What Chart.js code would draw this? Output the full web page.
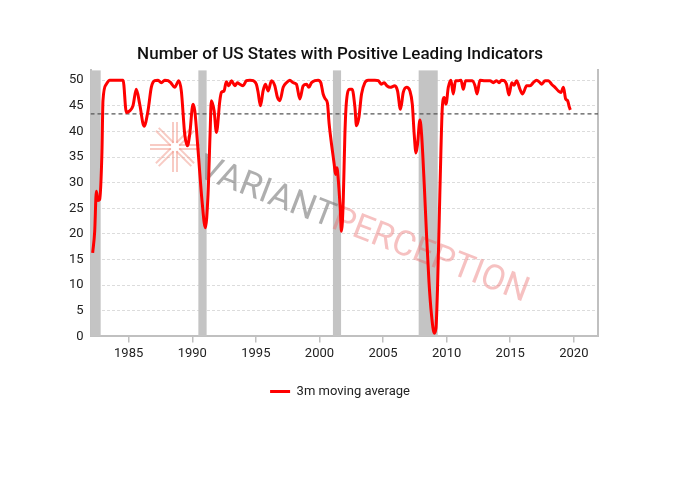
<!DOCTYPE html>
<html>
<head>
<meta charset="utf-8">
<script src="https://cdn.jsdelivr.net/npm/chart.js@4.4.1/dist/chart.umd.min.js"></script>
<style>
  html, body { margin: 0; padding: 0; background: #fff; }
  #wrap { width: 680px; height: 481px; }
</style>
</head>
<body>
<div id="wrap"><canvas id="chart" width="680" height="481"></canvas></div>
<script>
// --- DONNÉES ---
const obsYears = [
  1982.17, 1982.33, 1982.46, 1982.59, 1982.72, 1982.90, 1982.98, 1983.24, 1983.51, 1984.56,
  1984.82, 1985.08, 1985.34, 1985.60, 1985.87, 1986.21, 1986.52, 1986.78, 1987.05, 1987.31,
  1987.57, 1987.84, 1988.10, 1988.31, 1988.62, 1988.94, 1989.14, 1989.41, 1989.62, 1989.80,
  1990.06, 1990.20, 1990.46, 1990.77, 1991.03, 1991.24, 1991.40, 1991.50, 1991.72, 1991.90,
  1992.17, 1992.29, 1992.50, 1992.68, 1992.87, 1993.08, 1993.35, 1993.55, 1993.74, 1994.00,
  1994.26, 1994.53, 1994.79, 1995.04, 1995.18, 1995.36, 1995.57, 1995.75, 1995.97, 1996.23,
  1996.49, 1996.70, 1996.89, 1997.15, 1997.41, 1997.67, 1997.93, 1998.19, 1998.46, 1998.72,
  1998.98, 1999.17, 1999.37, 1999.64, 1999.90, 2000.11, 2000.29, 2000.47, 2000.63, 2000.76,
  2000.95, 2001.16, 2001.26, 2001.37, 2001.47, 2001.63, 2001.73, 2001.87, 2002.00, 2002.13,
  2002.39, 2002.57, 2002.79, 2002.91, 2003.10, 2003.31, 2003.57, 2003.83, 2004.36, 2004.62,
  2004.88, 2005.09, 2005.30, 2005.56, 2005.93, 2006.14, 2006.37, 2006.59, 2006.85, 2007.11,
  2007.30, 2007.45, 2007.59, 2007.71, 2007.90, 2008.03, 2008.24, 2008.42, 2008.61, 2008.81,
  2009.03, 2009.16, 2009.29, 2009.42, 2009.55, 2009.66, 2009.81, 2009.95, 2010.13, 2010.34,
  2010.52, 2010.70, 2010.92, 2011.13, 2011.31, 2011.49, 2011.76, 2012.02, 2012.23, 2012.39,
  2012.62, 2013.01, 2013.41, 2013.67, 2013.93, 2014.12, 2014.32, 2014.53, 2014.71, 2014.90,
  2015.12, 2015.30, 2015.50, 2015.77, 2015.97, 2016.29, 2016.56, 2016.81, 2017.07, 2017.34,
  2017.47, 2017.74, 2018.00, 2018.25, 2018.52, 2018.78, 2018.99, 2019.18, 2019.36, 2019.51,
  2019.65, 2019.73
];
const states3m = [
  16.3, 20.5, 28.3, 26.5, 26.7, 36.0, 46.0, 49.2, 50.0, 50.0,
  43.7, 44.0, 45.0, 48.2, 45.3, 41.0, 44.0, 48.6, 49.9, 50.0,
  49.5, 50.0, 49.9, 49.5, 48.6, 49.9, 47.9, 39.4, 37.2, 39.4,
  45.3, 44.0, 36.2, 26.4, 21.2, 27.7, 39.4, 46.0, 44.0, 39.8,
  46.0, 47.6, 47.9, 49.7, 48.9, 49.9, 48.9, 49.5, 49.2, 48.9,
  49.9, 50.0, 49.9, 49.2, 47.6, 45.0, 47.9, 49.2, 47.9, 49.9,
  48.9, 46.6, 46.0, 48.6, 49.5, 50.0, 49.5, 49.2, 46.3, 48.9,
  49.2, 48.6, 49.5, 49.9, 50.0, 49.5, 47.3, 46.3, 45.5, 41.5,
  37.5, 33.6, 31.6, 32.9, 30.9, 25.1, 20.5, 26.4, 39.4, 46.0,
  48.2, 48.2, 44.7, 41.1, 42.7, 47.3, 49.5, 50.0, 50.0, 49.9,
  49.2, 49.5, 48.9, 48.6, 48.9, 47.9, 44.3, 47.6, 48.6, 47.9,
  45.3, 39.4, 35.8, 37.5, 42.2, 39.4, 29.6, 19.8, 10.7, 4.2,
  0.6, 1.6, 10.0, 23.1, 36.2, 44.7, 46.6, 45.3, 48.6, 50.0,
  47.3, 49.9, 49.9, 50.0, 48.2, 49.9, 49.9, 49.9, 48.9, 47.3,
  50.0, 49.9, 49.9, 49.5, 49.9, 49.5, 50.0, 49.9, 49.2, 47.1,
  49.5, 49.0, 49.9, 48.2, 47.3, 48.9, 48.9, 49.5, 50.0, 49.5,
  49.2, 49.9, 49.9, 49.2, 48.6, 47.9, 47.6, 48.6, 46.3, 46.0,
  44.7, 44.2
];
const refLevel = 43.4;                 // ligne pointillée horizontale
const recessionStart = [1981.5, 1990.48, 2001.06, 2007.8];
const recessionEnd   = [1982.8, 1991.13, 2001.7, 2009.3];
const xTicks = [1985, 1990, 1995, 2000, 2005, 2010, 2015, 2020];
const yTicks = [0, 5, 10, 15, 20, 25, 30, 35, 40, 45, 50];
const xRange = [1982.0, 2021.9];
const yRange = [0, 51.9];

const seriesPoints = obsYears.map((yr, i) => ({ x: yr, y: states3m[i] }));
const refPoints = xRange.map(yr => ({ x: yr, y: refLevel }));

// --- PLUGIN : bandes de récession + filigrane ---
const backdrop = {
  id: 'backdrop',
  beforeDatasetsDraw(chart) {
    const { ctx, chartArea: a, scales: { x } } = chart;
    ctx.save();

    // Bandes grises (récessions)
    ctx.fillStyle = '#c4c4c4';
    recessionStart.forEach((s, i) => {
      const x0 = Math.max(x.getPixelForValue(s), a.left);
      const x1 = x.getPixelForValue(recessionEnd[i]);
      ctx.fillRect(x0, a.top, x1 - x0, a.bottom - a.top);
    });

    // Logo étoile
    ctx.strokeStyle = 'rgba(240,140,125,0.45)';
    ctx.lineWidth = 2;
    const cx = 175, cy = 147;
    for (let k = 0; k < 8; k++) {
      const ang = k * Math.PI / 4;
      const dx = Math.cos(ang), dy = Math.sin(ang);
      [-2, 2].forEach(off => {
        ctx.beginPath();
        ctx.moveTo(cx + dx * 4 - dy * off, cy + dy * 4 + dx * off);
        ctx.lineTo(cx + dx * 25 - dy * off, cy + dy * 25 + dx * off);
        ctx.stroke();
      });
    }

    // Texte filigrane
    ctx.translate(196, 176);
    ctx.rotate(21 * Math.PI / 180);
    ctx.font = '400 35px Roboto';
    ctx.textBaseline = 'alphabetic';
    ctx.fillStyle = 'rgba(120,120,120,0.6)';
    ctx.fillText('VARIANT', 0, 0);
    const w = ctx.measureText('VARIANT').width;
    ctx.fillStyle = 'rgba(232,100,100,0.4)';
    ctx.fillText('PERCEPTION', w, 0);

    ctx.restore();
  }
};

const axisGray = '#c0c0c0';
const tickFont = { family: 'Roboto', size: 13 };

new Chart(document.getElementById('chart'), {
  type: 'line',
  data: {
    datasets: [{
      label: '3m moving average',
      data: seriesPoints,
      borderColor: '#ff0000',
      backgroundColor: '#ff0000',
      borderWidth: 3,
      pointRadius: 0,
      cubicInterpolationMode: 'monotone',
      borderJoinStyle: 'round',
      fill: false
    }, {
      label: 'ref',
      data: refPoints,
      borderColor: '#555',
      borderWidth: 1.2,
      borderDash: [4, 3],
      pointRadius: 0,
      fill: false
    }]
  },
  options: {
    responsive: false,
    animation: false,
    layout: { padding: { left: 69, right: 69, top: 45, bottom: 73 } },
    plugins: {
      title: {
        display: true,
        text: 'Number of US States with Positive Leading Indicators',
        color: '#111',
        font: { family: 'Roboto', size: 17, weight: '500' },
        padding: { top: 0, bottom: 5 }
      },
      legend: {
        position: 'bottom',
        labels: {
          filter: item => item.datasetIndex === 0,
          usePointStyle: true,
          pointStyle: 'line',
          pointStyleWidth: 20,
          color: '#222',
          font: tickFont,
          padding: 19
        }
      },
      tooltip: { enabled: false }
    },
    scales: {
      x: {
        type: 'linear',
        min: xRange[0], max: xRange[1],
        afterBuildTicks: s => { s.ticks = xTicks.map(v => ({ value: v })); },
        ticks: { color: '#222', font: tickFont, padding: 4, maxRotation: 0, callback: v => String(v) },
        grid: { drawOnChartArea: false, drawTicks: true, tickLength: 6, color: axisGray, lineWidth: 1.5 },
        border: { color: axisGray, width: 2 }
      },
      y: {
        min: yRange[0], max: yRange[1],
        afterBuildTicks: s => { s.ticks = yTicks.map(v => ({ value: v })); },
        afterFit: s => { s.width = 21.5; },
        ticks: { color: '#222', font: tickFont, padding: 7 },
        grid: { color: '#dcdcdc', drawTicks: false },
        border: { color: axisGray, width: 2, dash: [3, 2] }
      },
      yr: {
        position: 'right',
        min: yRange[0], max: yRange[1],
        afterFit: s => { s.width = 13; },
        ticks: { display: false },
        grid: { display: false },
        border: { color: axisGray, width: 2 }
      }
    }
  },
  plugins: [backdrop]
});
</script>
</body>
</html>
